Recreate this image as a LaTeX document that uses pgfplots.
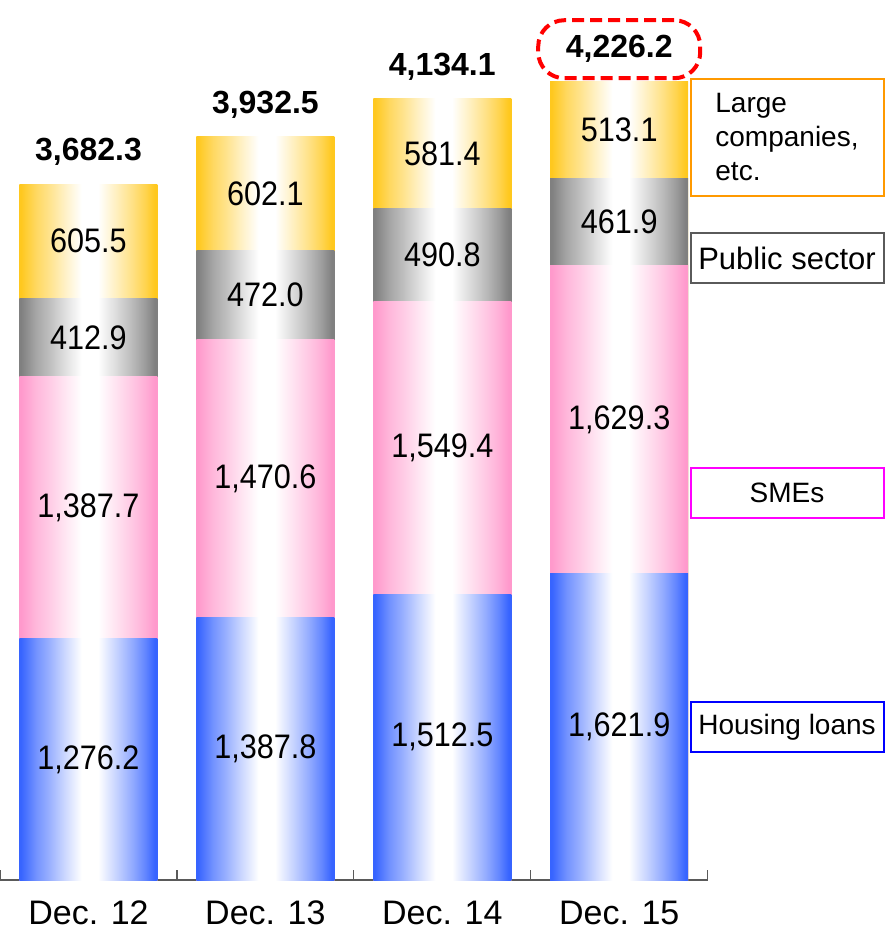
\documentclass[border=0pt]{standalone}
\usepackage{pgfplots}
\usepackage{pgfplotstable}
\pgfplotsset{compat=1.18}
\usepackage{fontspec}
\setmainfont{Liberation Sans}
\usepackage{graphicx}

\definecolor{cblue}{RGB}{55,100,255}
\definecolor{cpink}{RGB}{255,153,204}
\definecolor{cgray}{RGB}{128,128,128}
\definecolor{cgold}{RGB}{255,200,30}
\definecolor{axgray}{RGB}{90,90,90}

\newcommand\mkshade[2]{%
\pgfdeclarehorizontalshading{#1}{100bp}{color(0bp)=(#2); color(25.5bp)=(#2); color(31bp)=(#2!70!white); color(35.5bp)=(#2!52!white); color(41.5bp)=(#2!25!white); color(47.5bp)=(white); color(53.5bp)=(white); color(60bp)=(#2!28!white); color(66bp)=(#2!55!white); color(70.5bp)=(#2!78!white); color(74bp)=(#2); color(100bp)=(#2)}}
\mkshade{shblue}{cblue}
\mkshade{shpink}{cpink}
\mkshade{shgray}{cgray}
\mkshade{shgold}{cgold}

\pgfplotstableread{
x housing sme public large
0 1276.2 1387.7 412.9 605.5
1 1387.8 1470.6 472.0 602.1
2 1512.5 1549.4 490.8 581.4
3 1621.9 1629.3 461.9 513.1
}\loans
% cumulative tops and segment midpoints
\pgfplotstablecreatecol[create col/expr={\thisrow{housing}}]{c1}\loans
\pgfplotstablecreatecol[create col/expr={\thisrow{c1}+\thisrow{sme}}]{c2}\loans
\pgfplotstablecreatecol[create col/expr={\thisrow{c2}+\thisrow{public}}]{c3}\loans
\pgfplotstablecreatecol[create col/expr={\thisrow{c3}+\thisrow{large}}]{c4}\loans
\pgfplotstablecreatecol[create col/expr={\thisrow{housing}/2}]{m1}\loans
\pgfplotstablecreatecol[create col/expr={\thisrow{c1}+\thisrow{sme}/2}]{m2}\loans
\pgfplotstablecreatecol[create col/expr={\thisrow{c2}+\thisrow{public}/2}]{m3}\loans
\pgfplotstablecreatecol[create col/expr={\thisrow{c3}+\thisrow{large}/2}]{m4}\loans

\pgfplotstableread{
x total
0 3682.3
1 3932.5
2 4134.1
}\totals

\pgfplotsset{
  common/.style={
    at={(0,0)}, anchor=south west, scale only axis,
    width=353.85pt, height=415.8pt,
    xmin=-0.5, xmax=3.5, ymin=0, ymax=4400,
    clip=false,
  },
  onebar/.style={ybar, bar width=69pt, bar shift=0pt, draw=none, shading=#1, shade},
  seglabel/.style={draw=none, mark=none, point meta=\thisrow{#1},
    nodes near coords={\scalebox{0.9}[1]{\pgfmathprintnumber[fixed,fixed zerofill,precision=1,1000 sep={,},assume math mode=true]{\pgfplotspointmeta}}},
    every node near coord/.append style={anchor=center, text=black, inner sep=0pt,
       font=\fontsize{17}{19}\selectfont}},
}

\begin{document}
\begin{tikzpicture}
\begin{axis}[
  common,
  axis y line=none, axis x line*=bottom,
  x axis line style={draw=axgray, line width=0.75pt},
  xtick={0,1,2,3},
  xticklabels={Dec. 12,Dec. 13,Dec. 14,Dec. 15},
  major x tick style={draw=none},
  minor xtick={-0.5,0.5,1.5,2.5,3.5},
  minor tick length=5pt, tick align=inside,
  minor x tick style={draw=axgray, line width=0.6pt},
  xticklabel style={anchor=center, yshift=-16.5pt, font=\fontsize{17}{20}\selectfont},
]
\pgfplotsinvokeforeach{0,1,2,3}{
  \addplot[onebar=shgold, restrict x to domain=#1:#1] table[x=x,y=c4]{\loans};
  \addplot[onebar=shgray, restrict x to domain=#1:#1] table[x=x,y=c3]{\loans};
  \addplot[onebar=shpink, restrict x to domain=#1:#1] table[x=x,y=c2]{\loans};
  \addplot[onebar=shblue, restrict x to domain=#1:#1] table[x=x,y=c1]{\loans};
}
\addplot[seglabel=housing] table[x=x,y=m1]{\loans};
\addplot[seglabel=sme] table[x=x,y=m2]{\loans};
\addplot[seglabel=public] table[x=x,y=m3]{\loans};
\addplot[seglabel=large] table[x=x,y=m4]{\loans};
\end{axis}

\begin{axis}[
  common, hide axis,
  nodes near coords={\textbf{\pgfmathprintnumber[fixed,fixed zerofill,precision=1,1000 sep={,},assume math mode=true]{\pgfplotspointmeta}}},
  every node near coord/.append style={anchor=center, text=black, inner sep=0pt,
     font=\fontsize{16}{18}\selectfont, yshift=16pt},
]
\addplot[draw=none, mark=none, point meta=y] table[x=x,y=total]{\totals};
\addplot[draw=none, mark=none, point meta=y,
  every node near coord/.append style={draw=red, dashed, dash pattern=on 6pt off 3pt,
    line width=2pt, rounded corners=13pt, minimum width=81pt, minimum height=29pt}]
  coordinates {(3,4226.2)};
\end{axis}

\begin{scope}[every node/.style={font=\fontsize{14}{17}\selectfont, line width=1pt, fill=white, inner sep=0pt, minimum width=96.5pt}]
\node[draw={rgb,255:red,255;green,153;blue,0}, minimum height=58.5pt, align=left] at (393.5pt,371.25pt) {Large\\companies,\\etc.};
\node[draw=axgray, minimum height=25pt, font=\fontsize{15.5}{17}\selectfont] at (393.5pt,311pt) {Public sector};
\node[draw={rgb,255:red,255;green,0;blue,255}, minimum height=25pt] at (393.5pt,193.5pt) {SMEs};
\node[draw={rgb,255:red,0;green,0;blue,255}, minimum height=25pt] at (393.5pt,76.5pt) {Housing loans};
\end{scope}

\pgfresetboundingbox
\path[use as bounding box] (0pt,-24.5pt) rectangle (442.5pt,440pt);
\end{tikzpicture}
\end{document}
